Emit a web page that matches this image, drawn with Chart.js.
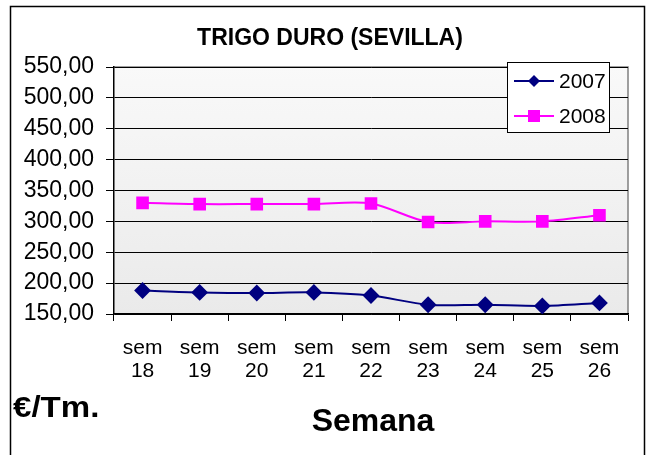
<!DOCTYPE html>
<html>
<head>
<meta charset="utf-8">
<script src="https://cdn.jsdelivr.net/npm/chart.js@4"></script>
<style>
html,body{margin:0;padding:0;background:#fff;}
canvas{display:block;}
</style>
</head>
<body>
<canvas id="c" width="648" height="455"></canvas>
<script>
const weeks = ['18','19','20','21','22','23','24','25','26'];
const categories = weeks.map(w => ['sem', w]);
const values2007 = [188, 185, 184, 185, 180, 165, 165, 163, 168];
const values2008 = [330, 328, 328, 328, 329, 299, 300, 300, 310];
const seriesNames = ['2007', '2008'];
const chartTitle = 'TRIGO DURO (SEVILLA)';
const xTitle = 'Semana';
const yTitle = '€/Tm.';
const FONT = '"Liberation Sans", Arial, sans-serif';

const decor = {
  id: 'decor',
  beforeDraw(chart) {
    const c = chart.ctx, a = chart.chartArea;
    c.save();
    c.fillStyle = '#fff';
    c.fillRect(0, 0, chart.width, chart.height);
    const g = c.createLinearGradient(0, a.top, 0, a.bottom);
    g.addColorStop(0, '#f9f9f9');
    g.addColorStop(1, '#eaeaea');
    c.fillStyle = g;
    c.fillRect(a.left, a.top, a.right - a.left, a.bottom - a.top);
    c.strokeStyle = '#808080';
    c.lineWidth = 1.5;
    c.beginPath();
    c.moveTo(a.left, a.top); c.lineTo(a.right, a.top); c.lineTo(a.right, a.bottom);
    c.stroke();
    c.restore();
  },
  afterDraw(chart) {
    const c = chart.ctx;
    c.save();
    // outer frame
    c.strokeStyle = '#000';
    c.lineWidth = 1.5;
    c.beginPath();
    c.moveTo(10.5, chart.height + 2); c.lineTo(10.5, 6.5); c.lineTo(644.5, 6.5); c.lineTo(644.5, chart.height + 2);
    c.stroke();
    // title
    c.fillStyle = '#000';
    c.textAlign = 'center';
    c.textBaseline = 'alphabetic';
    c.font = 'bold 23px ' + FONT;
    c.fillText(chartTitle, 330, 45);
    // x title
    c.font = 'bold 32px ' + FONT;
    c.fillText(xTitle, 373, 431);
    // y unit (slightly widened like the original)
    c.save();
    c.textAlign = 'left';
    c.font = 'bold 29px ' + FONT;
    c.translate(13, 417);
    c.scale(1.14, 1);
    c.fillText(yTitle, 0, 0);
    c.restore();
    // legend
    const bx = 507, by = 62, bw = 102, bh = 70;
    c.fillStyle = '#fff';
    c.fillRect(bx, by, bw, bh);
    c.strokeStyle = '#000';
    c.lineWidth = 1;
    c.strokeRect(bx + 0.5, by + 0.5, bw, bh);
    chart.data.datasets.forEach((ds, i) => {
      const y = by + 19 + i * 35;
      c.strokeStyle = ds.borderColor;
      c.lineWidth = 2;
      c.beginPath(); c.moveTo(514, y); c.lineTo(554, y); c.stroke();
      c.fillStyle = ds.backgroundColor;
      if (ds.pointStyle === 'rectRot') {
        const r = 6;
        c.beginPath();
        c.moveTo(534, y - r); c.lineTo(534 + r, y); c.lineTo(534, y + r); c.lineTo(534 - r, y); c.closePath();
        c.fill();
      } else {
        c.fillRect(528, y - 6, 12, 12);
      }
      c.fillStyle = '#000';
      c.font = '21px ' + FONT;
      c.textAlign = 'left';
      c.textBaseline = 'middle';
      c.fillText(ds.label, 559, y + 1);
    });
    c.restore();
  }
};

new Chart(document.getElementById('c'), {
  type: 'line',
  data: {
    labels: categories,
    datasets: [
      {
        label: seriesNames[0], data: values2007,
        borderColor: '#000080', backgroundColor: '#000080',
        borderWidth: 2, pointStyle: 'rectRot', pointRadius: 7, pointHoverRadius: 7,
        tension: 0.3
      },
      {
        label: seriesNames[1], data: values2008,
        borderColor: '#ff00ff', backgroundColor: '#ff00ff',
        borderWidth: 2, pointStyle: 'rect', pointRadius: 7.5, pointHoverRadius: 7.5,
        tension: 0.3
      }
    ]
  },
  options: {
    responsive: false,
    devicePixelRatio: 1,
    animation: false,
    layout: { padding: { left: 14, right: 20, top: 67, bottom: 0 } },
    plugins: { legend: { display: false }, title: { display: false }, tooltip: { enabled: false } },
    scales: {
      y: {
        min: 150, max: 550,
        afterFit(s) { s.width = 100; },
        ticks: {
          stepSize: 50,
          color: '#000',
          padding: 12,
          font: { family: FONT, size: 23 },
          callback: v => v.toFixed(2).replace('.', ',')
        },
        grid: { color: '#000', lineWidth: 1, tickLength: 8, tickColor: '#000' },
        border: { color: '#000', width: 1.5 }
      },
      x: {
        offset: true,
        afterFit(s) { s.height = 141; },
        ticks: {
          color: '#000',
          maxRotation: 0,
          autoSkip: false,
          padding: 15,
          font: { family: FONT, size: 21, lineHeight: 1.12 }
        },
        grid: { drawOnChartArea: false, offset: true, tickLength: 7, color: '#000', tickColor: '#000' },
        border: { color: '#000', width: 1.5 }
      }
    }
  },
  plugins: [decor]
});
</script>
</body>
</html>
